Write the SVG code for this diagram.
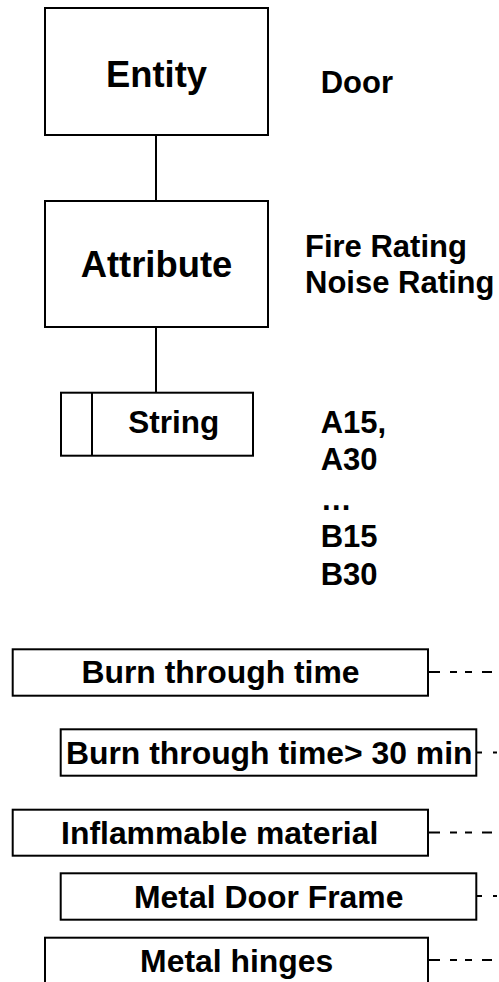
<svg xmlns="http://www.w3.org/2000/svg" width="499" height="982" viewBox="0 0 499 982">
<style>
.box{fill:#fff;stroke:#000;stroke-width:2}
.t{font-family:"Liberation Sans",Arial,sans-serif;font-weight:bold;fill:#000}
.big{font-size:36.4px;text-anchor:middle}
.sm{font-size:31px}
.bx{font-size:31.9px;text-anchor:middle}
.mid{text-anchor:middle}
.con{stroke:#000;stroke-width:2;fill:none}
.dash{stroke:#000;stroke-width:2;fill:none}
</style>
<rect width="499" height="982" fill="#fff"/>
<g id="connectors">
<line class="con" x1="156" y1="136" x2="156" y2="201"/>
<line class="con" x1="156" y1="328" x2="156" y2="392"/>
<line class="dash" x1="429" y1="672" x2="499" y2="672" stroke-dasharray="11 10 7 8 7 10 10"/>
<line class="dash" x1="477" y1="752.5" x2="499" y2="752.5" stroke-dasharray="5 11 4 10"/>
<line class="dash" x1="429" y1="832.5" x2="499" y2="832.5" stroke-dasharray="11 10 7 8 7 10 10"/>
<line class="dash" x1="477" y1="896" x2="499" y2="896" stroke-dasharray="5 11 4 10"/>
<line class="dash" x1="429" y1="960" x2="499" y2="960" stroke-dasharray="11 10 7 8 7 10 10"/>
</g>
<g id="entity">
<rect class="box" x="45" y="8" width="223" height="127"/>
<text class="t big" x="156.5" y="86.7">Entity</text>
</g>
<g id="door">
<text class="t sm" x="320.7" y="92.7">Door</text>
</g>
<g id="attribute">
<rect class="box" x="45" y="201" width="223" height="126"/>
<text class="t big" x="156.5" y="277.3">Attribute</text>
</g>
<g id="ratings">
<text class="t sm" x="305" y="256.7">Fire Rating</text>
<text class="t sm" x="305" y="293.3">Noise Rating</text>
</g>
<g id="string">
<rect class="box" x="61" y="392.7" width="192" height="63"/>
<line class="con" x1="92" y1="392.7" x2="92" y2="455.7"/>
<text class="t sm mid" x="173.8" y="432.7" style="font-size:31.5px">String</text>
</g>
<g id="values">
<text class="t sm" x="320.7" y="432.7">A15,</text>
<text class="t sm" x="320.7" y="470">A30</text>
<text class="t sm" x="320.7" y="510">…</text>
<text class="t sm" x="320.7" y="547.3">B15</text>
<text class="t sm" x="320.7" y="585">B30</text>
</g>
<g id="burn-through-time">
<rect class="box" x="12.7" y="649.3" width="415.3" height="46.4"/>
<text class="t bx" x="220.5" y="683.3">Burn through time</text>
</g>
<g id="burn-through-time-30">
<rect class="box" x="60.7" y="729.3" width="415.6" height="46.4"/>
<text class="t bx" x="269.2" y="764">Burn through time&gt; 30 min</text>
</g>
<g id="inflammable-material">
<rect class="box" x="12.7" y="809.7" width="415.3" height="46"/>
<text class="t bx" x="219.7" y="844">Inflammable material</text>
</g>
<g id="metal-door-frame">
<rect class="box" x="60.7" y="873.3" width="415.6" height="46.4"/>
<text class="t bx" x="268.7" y="908.3">Metal Door Frame</text>
</g>
<g id="metal-hinges">
<rect class="box" x="45" y="937.7" width="383" height="60"/>
<text class="t bx" x="236.7" y="971.7">Metal hinges</text>
</g>
</svg>
